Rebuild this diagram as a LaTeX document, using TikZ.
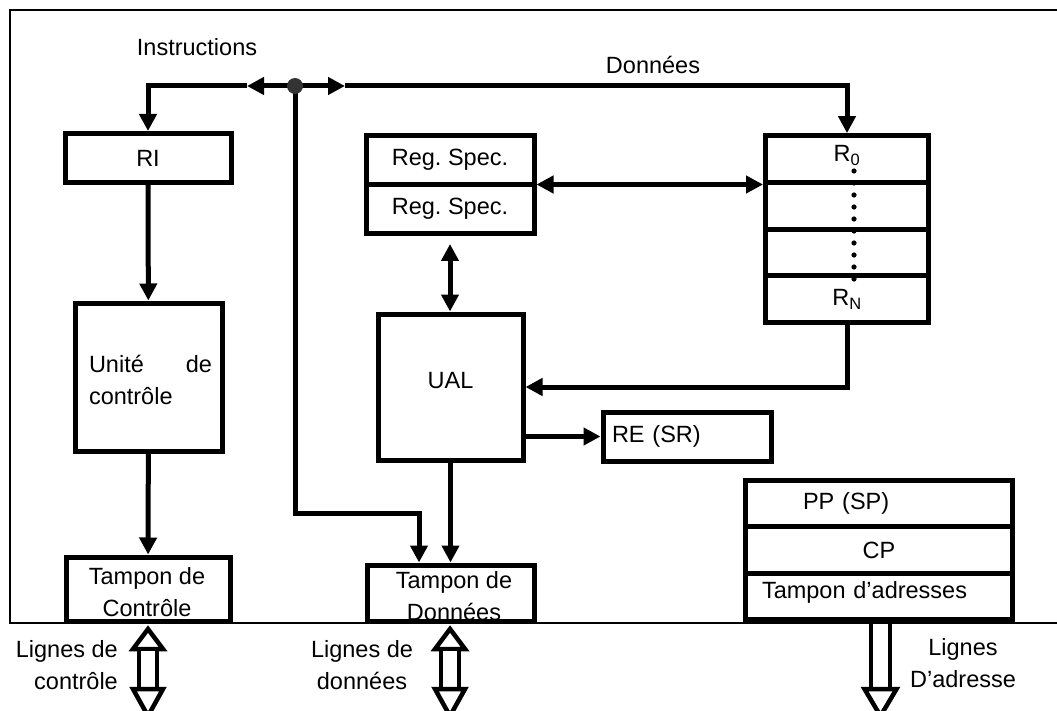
\documentclass[tikz,border=0pt]{standalone}
\usepackage{fontspec}
\setmainfont{Liberation Sans}
\usetikzlibrary{arrows.meta,positioning,calc}
\frenchspacing

\begin{document}
\begin{tikzpicture}[x=1pt,y=-1pt,font=\fontsize{23.5}{32}\selectfont,
    box/.style={draw,line width=5pt,inner sep=0pt,align=center},
    lbl/.style={inner sep=0pt,align=center},
    arr/.style={-{Triangle[length=17pt,width=17pt]},line width=5pt},
    dblarr/.style={{Triangle[length=17pt,width=17pt]}-{Triangle[length=17pt,width=17pt]},line width=5pt},
    hollow/.style={draw,fill=white,line width=4.5pt,line join=miter}]
    \useasboundingbox (0,0) rectangle (1057,711);
    \draw[line width=2pt] (1070,10) -- (10,10) -- (10,623) -- (1070,623);

    \node[box,minimum width=166pt,minimum height=49pt] (RI) at (148,158) {RI};
    \node[box,minimum width=147pt,minimum height=148pt] (UC) at (148.5,377) {};
    \node[lbl,text width=123pt,align=left] (UCt) at (150.5,379.5) {Unité\hfill de\\contrôle};
    \node[box,minimum width=164pt,minimum height=64pt] (TC) at (148,589) {};
    \node[lbl] (TCt) at (147,592.5) {Tampon de\\Contrôle};

    \node[box,minimum width=168pt,minimum height=49pt] (RS1) at (450,160) {Reg. Spec.};
    \node[box,minimum width=168pt,minimum height=49pt,below=-5pt of RS1] (RS2) {Reg. Spec.};
    \node[box,minimum width=145pt,minimum height=146pt,text depth=14pt] (UAL) at (450.5,387) {UAL};
    \node[box,minimum width=168pt,minimum height=49pt,text width=150pt,align=left] (RE) at (687,436.5) {RE (SR)};
    \node[box,minimum width=167pt,minimum height=56pt] (TD) at (450.5,593) {};
    \node[lbl] (TDt) at (454,596.5) {Tampon de\\Données};

    \node[box,minimum width=163pt,minimum height=46.75pt,text depth=11pt] (R0) at (847,159) {R\textsubscript{0}};
    \node[box,minimum width=163pt,minimum height=46.75pt,below=-5pt of R0] (R1) {};
    \node[box,minimum width=163pt,minimum height=46.75pt,below=-5pt of R1] (R2) {};
    \node[box,minimum width=163pt,minimum height=46.75pt,below=-5pt of R2] (RN) {R\textsubscript{N}};
    \foreach \y in {171,183,...,279}
      \fill (854,\y) circle (2.6pt);

    \node[box,minimum width=267pt,minimum height=46.3pt,text width=152pt,align=left] (PP) at (879,503.7) {PP (SP)};
    \node[box,minimum width=267pt,minimum height=46.3pt,below=-5pt of PP] (CP) {CP};
    \node[box,minimum width=267pt,minimum height=46.3pt,text width=234pt,align=left,text depth=12pt,below=-5pt of CP] (TA) {Tampon d’adresses};

    \node[lbl] (instr) at (197,47) {Instructions};
    \node[lbl] (donn) at (653,65) {Données};
    \node[lbl,anchor=east,align=right] (lctl) at (118,665) {Lignes de\\contrôle};
    \node[lbl] (ldon) at (362,665) {Lignes de\\données};
    \node[lbl] (ladr) at (963,663) {Lignes\\D’adresse};

    \coordinate (bus) at (295,86);
    \coordinate (busL) at (247,86);
    \coordinate (busR) at (345,86);
    \coordinate (busD) at (295,513);
    \coordinate (rsmid) at ($(RS1.south east)!.5!(RS2.north east)$);
    \draw[dblarr] (busL) -- (busR);
    \draw[arr] (busL) -| (RI.north);
    \draw[arr] (busR) -| (R0.north);
    \draw[arr] (bus) -- (busD) -| ([xshift=-31.5pt]TD.north);
    \fill[black!80] (bus) circle (8pt);
    \draw[arr] (RI) -- (UC);
    \draw[arr] (UC) -- (TC);
    \draw[dblarr,shorten <=8pt] (RS2.south) -- (RS2.south |- UAL.north);
    \draw[dblarr] (rsmid) -- (rsmid -| R1.west);
    \draw[arr] (RN.south) |- (UAL.east);
    \draw[arr] (RE.west -| UAL.east) -- (RE.west);
    \draw[arr] (UAL.south) -- (UAL.south |- TD.north);

    \foreach \cx in {148,450}{
      \draw[hollow] (\cx,629) -- (\cx+15,649) -- (\cx-15,649) -- cycle;
      \draw[hollow] (\cx-9,649) rectangle (\cx+9,689);
      \draw[hollow] (\cx-15,689) -- (\cx+15,689) -- (\cx,716) -- cycle;
    }
    \draw[hollow,fill=none] (871,623) -- (871,689) (890,623) -- (890,689);
    \draw[hollow] (864.5,689) -- (896.5,689) -- (880.5,716) -- cycle;
  \end{tikzpicture}
\end{document}
